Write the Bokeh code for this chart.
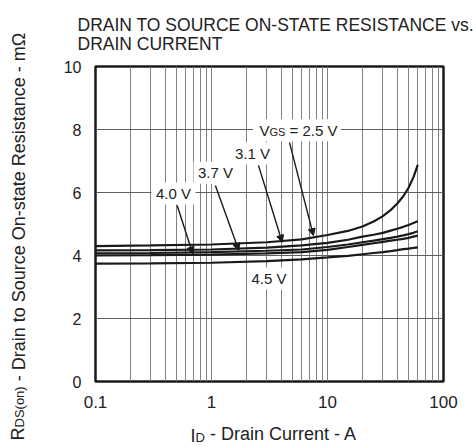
import math
from bokeh.plotting import figure
from bokeh.models import (Range1d, FixedTicker, Label, Arrow, NormalHead, Title,
                          CustomJSTickFormatter, ColumnDataSource)
from bokeh.embed import file_html
from bokeh.resources import INLINE

# ---------------- data ----------------
drain_current = [0.1, 0.3, 1, 3, 6, 10, 15, 20, 25, 30, 35, 40, 45, 50, 55, 60]
r_vgs_2_5 = [4.30, 4.32, 4.35, 4.42, 4.51, 4.65, 4.78, 4.92, 5.08, 5.25, 5.44, 5.65, 5.88, 6.15, 6.48, 6.88]
r_vgs_3_1 = [4.16, 4.17, 4.19, 4.25, 4.32, 4.40, 4.50, 4.60, 4.66, 4.72, 4.79, 4.85, 4.91, 4.97, 5.03, 5.09]
r_vgs_3_7 = [4.07, 4.08, 4.11, 4.15, 4.19, 4.27, 4.35, 4.42, 4.47, 4.52, 4.56, 4.60, 4.64, 4.68, 4.72, 4.77]
r_vgs_4_0 = [4.00, 4.01, 4.03, 4.07, 4.11, 4.18, 4.27, 4.34, 4.39, 4.43, 4.47, 4.50, 4.53, 4.56, 4.60, 4.63]
r_vgs_4_5 = [3.74, 3.75, 3.77, 3.82, 3.88, 3.94, 3.99, 4.04, 4.08, 4.11, 4.14, 4.17, 4.20, 4.22, 4.24, 4.26]

x_ticks = [0.1, 1, 10, 100]
y_ticks = [0, 2, 4, 6, 8, 10]
x_grid = [m * d for d in (0.1, 1, 10) for m in range(2, 10)] + [1, 10]
y_grid = [2, 4, 6, 8]

title_text = "DRAIN TO SOURCE ON-STATE RESISTANCE vs.\nDRAIN CURRENT"
x_label_sym = ("I", "D")
x_label_rest = "- Drain Current - A"
y_label_parts = [("R", 18, 0), ("DS(on)", 13, 13.0),
                 ("- Drain to Source On-state Resistance - m\u03a9", 18, 59.2)]

# curve labels: (text, center current, center resistance, box width)
curve_labels = [("3.1 V", 2.26, 7.24, 44), ("3.7 V", 1.083, 6.63, 44),
                ("4.0 V", 0.470, 5.97, 44), ("4.5 V", 3.13, 3.27, 40)]
vgs_box = (5.46, 7.98, 88)
vgs_anchor = (2.59, 7.97)
# arrows: start current, start R, end current, end R
arrows = [(4.70, 7.59, 7.57, 4.63), (2.54, 6.86, 4.07, 4.42),
          (1.08, 6.22, 1.72, 4.16), (0.506, 5.59, 0.69, 4.05)]

FONT = "Liberation Sans"
TXT = "#222222"

p = figure(width=473, height=447, x_axis_type="log",
           x_range=Range1d(0.1, 100), y_range=Range1d(0, 10),
           output_backend="svg", toolbar_location=None,
           min_border_left=95, min_border_right=30,
           min_border_top=66, min_border_bottom=66)

p.outline_line_color = "#1a1a1a"
p.outline_line_width = 2.5
p.background_fill_color = "white"
p.border_fill_color = "white"

# title
p.add_layout(Title(text=title_text, align="left", offset=-18, standoff=25,
                   text_font=FONT, text_font_size="17.5px", text_font_style="normal",
                   text_color=TXT, text_line_height=0.94), "above")

# axes
for ax in (p.xaxis, p.yaxis):
    ax.axis_line_color = None
    ax.major_tick_line_color = None
    ax.minor_tick_line_color = None
    ax.major_tick_out = 0
    ax.major_tick_in = 0
    ax.minor_tick_out = 0
    ax.major_label_text_font = FONT
    ax.major_label_text_color = TXT
p.xaxis.ticker = FixedTicker(ticks=x_ticks)
p.xaxis.formatter = CustomJSTickFormatter(code="return tick < 1 ? tick.toFixed(1) : tick.toFixed(0);")
p.xaxis.major_label_text_font_size = "17px"
p.xaxis.major_label_standoff = 14
p.yaxis.ticker = FixedTicker(ticks=y_ticks)
p.yaxis.major_label_text_font_size = "16px"
p.yaxis.major_label_standoff = 14

# grid
p.xgrid.ticker = FixedTicker(ticks=x_grid)
p.xgrid.grid_line_color = "#808080"
p.xgrid.grid_line_width = 1
p.ygrid.ticker = FixedTicker(ticks=y_grid)
p.ygrid.grid_line_color = "#606060"
p.ygrid.grid_line_width = 1

# white label boxes
bx = [c[1] for c in curve_labels] + [vgs_box[0]]
by = [c[2] for c in curve_labels] + [vgs_box[1]]
bw = [c[3] for c in curve_labels] + [vgs_box[2]]
p.rect(x=bx, y=by, width=bw, height=[22] * len(bx), width_units="screen",
       height_units="screen", fill_color="white", line_color=None)

# curves
src = ColumnDataSource(dict(i=drain_current, a=r_vgs_2_5, b=r_vgs_3_1,
                            c=r_vgs_3_7, d=r_vgs_4_0, e=r_vgs_4_5))
for col in ("a", "b", "c", "d", "e"):
    p.line("i", col, source=src, line_color="#1a1a1a", line_width=2.2)

# arrows
for xs, ys, xe, ye in arrows:
    p.add_layout(Arrow(x_start=xs, y_start=ys, x_end=xe, y_end=ye,
                       line_color="#1a1a1a", line_width=1.4,
                       end=NormalHead(size=7, fill_color="#1a1a1a", line_color="#1a1a1a")))

# curve label texts
for text, cx, cy, w in curve_labels:
    p.add_layout(Label(x=cx, y=cy, text=text, text_align="center", text_baseline="middle",
                       text_font=FONT, text_font_size="15px", text_color=TXT))
vx, vy = vgs_anchor
for t, fs, xo, yo in (("V", 15, 0, 0), ("GS", 11, 10.0, -2), ("= 2.5 V", 15, 30.1, 0)):
    p.add_layout(Label(x=vx, y=vy, x_offset=xo, y_offset=yo, text=t, text_align="left",
                       text_baseline="middle", text_font=FONT,
                       text_font_size=f"{fs}px", text_color=TXT))

# ---- axis labels, placed in side panels (screen units are relative to each slot) ----
p.add_layout(Label(x=-253, y=-54, x_units="screen", y_units="screen", text=x_label_sym[0],
                   text_baseline="middle", text_align="left", text_font=FONT,
                   text_font_size="18px", text_color=TXT), "right")
p.add_layout(Label(x=-253, y=-55.7, x_units="screen", y_units="screen", text=x_label_sym[1],
                   text_baseline="middle", text_align="left", text_font=FONT,
                   text_font_size="13px", text_color=TXT), "right")
p.add_layout(Label(x=114.4, y=-3, x_units="screen", y_units="screen", text=x_label_rest,
                   text_baseline="middle", text_align="left", text_font=FONT,
                   text_font_size="18px", text_color=TXT), "below")
y_slot_x = [-23, -6.2, 13]
for (t, fs, off), sx in zip(y_label_parts, y_slot_x):
    p.add_layout(Label(x=sx, y=-59 + off, x_units="screen", y_units="screen", text=t,
                       angle=math.pi / 2, text_baseline="middle", text_align="left",
                       text_font=FONT, text_font_size=f"{fs}px", text_color=TXT), "left")

open("out.html", "w").write(file_html(p, INLINE))
